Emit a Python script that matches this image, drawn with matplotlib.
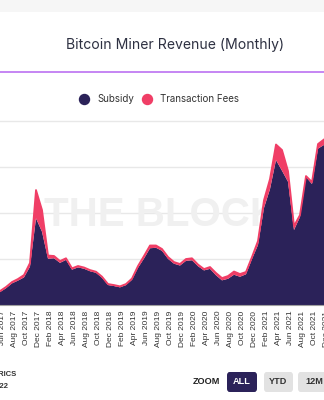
import numpy as np
import pandas as pd
import matplotlib
matplotlib.use("Agg")
import matplotlib.pyplot as plt
from matplotlib.lines import Line2D
from matplotlib.patches import Rectangle, FancyBboxPatch
from matplotlib.transforms import ScaledTranslation

# monthly values (USD millions), first point = Jun 2017
start_month = '2017-06-01'
subsidy = [140, 182, 235, 265, 300, 417, 942, 797, 503, 508, 458, 490,
           384, 409, 394, 367, 350, 296, 217, 206, 192, 216, 274, 404,
           505, 617, 622, 589, 502, 449, 429, 480, 486, 422, 376, 393,
           323, 268, 285, 329, 307, 334, 500, 652, 1055, 1260, 1575, 1460,
           1340, 815, 957, 1391, 1315, 1700, 1740]
fees = [12, 14, 15, 18, 26, 40, 308, 236, 35, 25, 20, 18,
        15, 15, 14, 13, 12, 12, 11, 11, 11, 12, 14, 20,
        28, 30, 25, 20, 20, 18, 17, 20, 22, 18, 15, 20,
        25, 25, 30, 35, 30, 25, 22, 44, 85, 110, 170, 225,
        117, 44, 21, 11, 22, 50, 60]
series_names = ['Subsidy', 'Transaction Fees']
zoom_buttons = ['ALL', 'YTD', '12M']

c_sub = '#2b2259'
c_fee = '#f03e66'

W, H = 324, 400
fig = plt.figure(figsize=(W / 100, H / 100), dpi=100)


def fx(px):
    return px / W


def fy(py):
    # py measured from top
    return 1 - py / H


# top band + purple rule
fig.add_artist(Rectangle((0, fy(12)), 1, fy(0) - fy(12), transform=fig.transFigure,
                         fc='#f6f6f6', ec='none', zorder=0))
fig.add_artist(Line2D([0, 1], [fy(71.5), fy(71.5)], transform=fig.transFigure,
                      color='#c07cf2', lw=1.3))

fig.text(fx(175), fy(45), 'Bitcoin Miner Revenue (Monthly)', ha='center', va='center',
         fontsize=10.1, color='#2e3142', family='Inter')

# legend
leg_items = [(84, series_names[0], c_sub, 97), (147, series_names[1], c_fee, 160)]
for mx, name, col, tx in leg_items:
    fig.add_artist(Line2D([fx(mx)], [fy(98.5)], transform=fig.transFigure, marker='o',
                          markersize=7.2, color=col, lw=0))
    fig.text(fx(tx), fy(98.5), name, ha='left', va='center', fontsize=7,
             color='#333333', family='Inter')

# chart
ax = fig.add_axes([0, fy(305), 1, fy(110) - fy(305)])
x = np.arange(len(subsidy))
sub = np.array(subsidy)
tot = sub + np.array(fees)
ax.stackplot(x, sub, fees, colors=[c_sub, c_fee], lw=0, zorder=2)
ax.plot(x, tot, color=c_fee, lw=1.3, zorder=3)

# watermark
ax.text(0.5, (305 - 215) / 195, 'THE BLOCK', transform=ax.transAxes, ha='center',
        va='center', fontsize=29, fontweight='bold', color='#f0f0f0',
        family='Liberation Sans', zorder=1)

ax.set_xlim(0.486, 52.99)
ax.set_ylim(0, 2120)
ax.set_yticks([500, 1000, 1500, 2000])
ax.set_yticklabels([])
ax.tick_params(axis='y', length=0)
ax.grid(axis='y', color='#e8e8e8', lw=1, zorder=0)
ax.set_axisbelow(True)
for s in ['top', 'right', 'left']:
    ax.spines[s].set_visible(False)
ax.spines['bottom'].set_color('#a0a0a0')
ax.spines['bottom'].set_zorder(4)

dates = pd.date_range(start_month, periods=len(subsidy), freq='MS')
ticks = x[::2]
ax.set_xticks(ticks)
ax.set_xticklabels([d.strftime('%b %Y') for d in dates[::2]], rotation=90,
                   fontsize=6, color='#333333', family='Liberation Sans')
ax.tick_params(axis='x', length=0, pad=4)
shift = ScaledTranslation(3 / 100, 0, fig.dpi_scale_trans)
for lab in ax.get_xticklabels():
    lab.set_transform(lab.get_transform() + shift)

# bottom left credits (cropped)
fig.text(fx(17), fy(375), 'METRICS', ha='right', va='center', fontsize=5.5,
         fontweight='bold', color='#333333', family='Liberation Sans')
fig.text(fx(8.5), fy(386), '2022', ha='right', va='center', fontsize=5.5,
         fontweight='bold', color='#333333', family='Liberation Sans')

# zoom buttons
fig.text(fx(206), fy(382), 'ZOOM', ha='center', va='center', fontsize=6.6,
         fontweight='bold', color='#222222', family='Liberation Sans')
btn_boxes = [(227, 257, c_sub, 'white'), (264, 293, '#e2e2e2', '#333333'),
             (298, 330, '#e2e2e2', '#333333')]
for (x0, x1, fc, tc), lbl in zip(btn_boxes, zoom_buttons):
    fig.add_artist(FancyBboxPatch((fx(x0), fy(392)), fx(x1 - x0), fy(372) - fy(392),
                                  boxstyle='round,pad=0,rounding_size=0.008',
                                  transform=fig.transFigure, fc=fc, ec='none'))
    fig.text(fx((x0 + x1) / 2), fy(382), lbl, ha='center', va='center', fontsize=6.6,
             fontweight='bold', color=tc, family='Liberation Sans')

fig.savefig('out.png', dpi=100)
